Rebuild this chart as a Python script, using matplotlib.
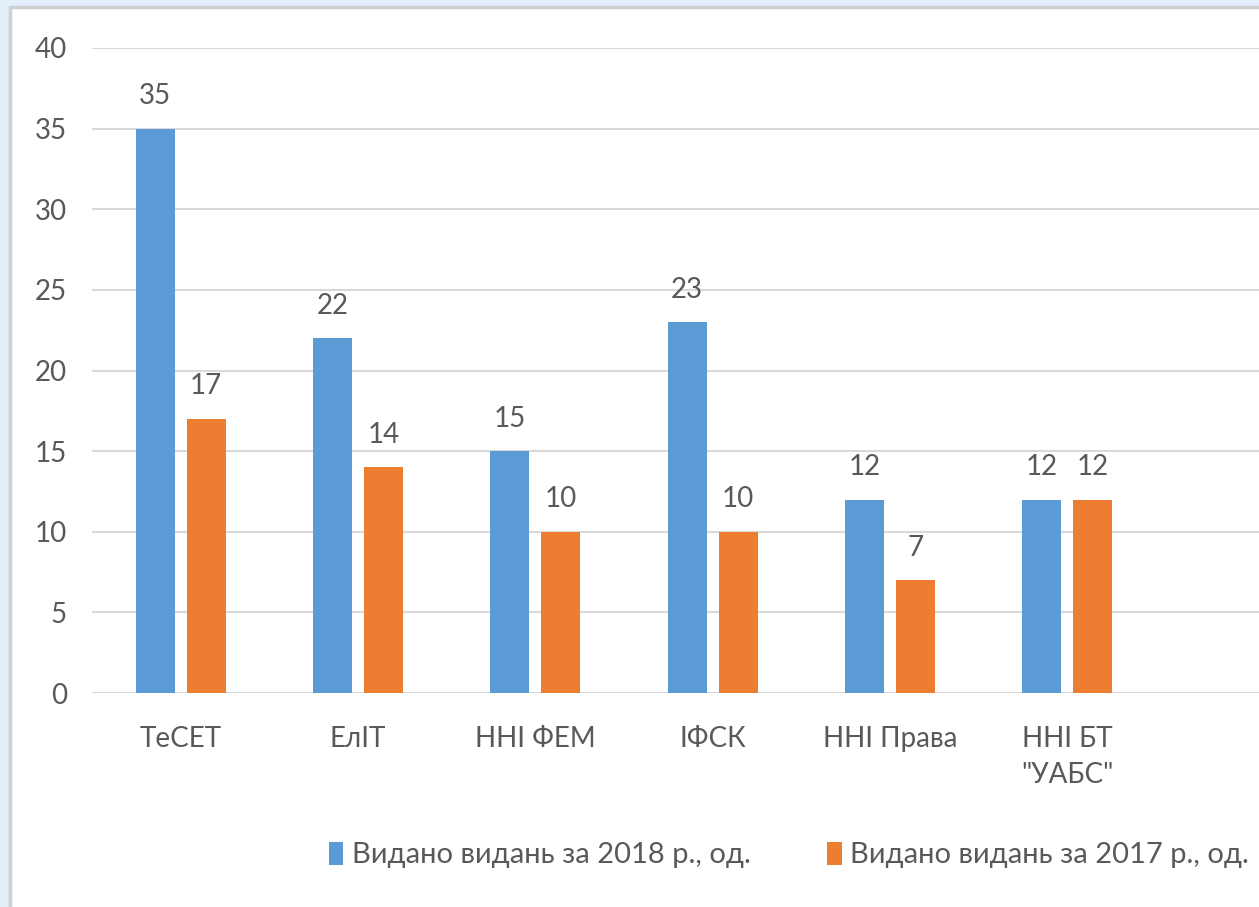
import matplotlib
matplotlib.use("Agg")
import matplotlib.pyplot as plt
from matplotlib.patches import Rectangle
import numpy as np

categories = ["ТеСЕТ", "ЕлІТ", "ННІ ФЕМ", "ІФСК", "ННІ Права", "ННІ БТ\n\"УАБС\""]
values_2018 = [35, 22, 15, 23, 12, 12]
values_2017 = [17, 14, 10, 10, 7, 12]
series_names = ["Видано видань за 2018 р., од.", "Видано видань за 2017 р., од."]
yticks = [0, 5, 10, 15, 20, 25, 30, 35, 40]

BLUE = "#5b9bd5"
ORANGE = "#ed7d31"
TXT = "#595959"
FONT = ["Lato", "DejaVu Sans"]
plt.rcParams['font.family'] = FONT
FS = 20

W, H = 1259, 907
fig = plt.figure(figsize=(W / 100, H / 100), dpi=100)
fig.patch.set_facecolor("#e3effa")

# white panel with grey border
panel = Rectangle((10 / W, -0.1), 1.2, 1 - 7 / H + 0.1, transform=fig.transFigure,
                  facecolor="white", edgecolor="#d0d0d0", linewidth=2.5, zorder=-5)
fig.patches.append(panel)

ax_left, ax_right = 92, 1259
y0_px, y40_px = 693, 48
ax = fig.add_axes([ax_left / W, 1 - y0_px / H, (ax_right - ax_left) / W, (y0_px - y40_px) / H])
ax.set_facecolor("none")
ax.set_zorder(2)

x = np.arange(len(categories))
bw = 0.22
off = 0.144
ax.bar(x - off, values_2018, bw, color=BLUE, label=series_names[0], zorder=3)
ax.bar(x + off, values_2017, bw, color=ORANGE, label=series_names[1], zorder=3)

for xi, v in zip(x, values_2018):
    ax.annotate(str(v), (xi - off, v), xytext=(0, 14), textcoords="offset points",
                ha="center", va="bottom", fontsize=FS, color=TXT)
for xi, v in zip(x, values_2017):
    ax.annotate(str(v), (xi + off, v), xytext=(0, 14), textcoords="offset points",
                ha="center", va="bottom", fontsize=FS, color=TXT)

ax.set_ylim(0, 40)
ax.set_xlim(-0.5, (ax_right - ax_left) / 177.3 - 0.5)
ax.set_yticks(yticks)
ax.set_yticklabels([str(t) for t in yticks], fontsize=FS, color=TXT)
ax.set_xticks(x)
ax.set_xticklabels(categories, fontsize=FS, color=TXT, linespacing=1.45, va="top")
ax.tick_params(axis="both", length=0)
ax.tick_params(axis="y", pad=18)
ax.tick_params(axis="x", pad=24)
ax.grid(axis="y", color="#d9d9d9", linewidth=1.5, zorder=0)
for s in ax.spines.values():
    s.set_visible(False)

leg = fig.legend(loc="center", bbox_to_anchor=(789 / W, 1 - 855 / H), ncol=2, frameon=False,
                 fontsize=21, handlelength=0.5, handleheight=0.85, handletextpad=0.3,
                 columnspacing=2.6, labelcolor=TXT)

fig.savefig("out.png", dpi=100, facecolor=fig.get_facecolor())
